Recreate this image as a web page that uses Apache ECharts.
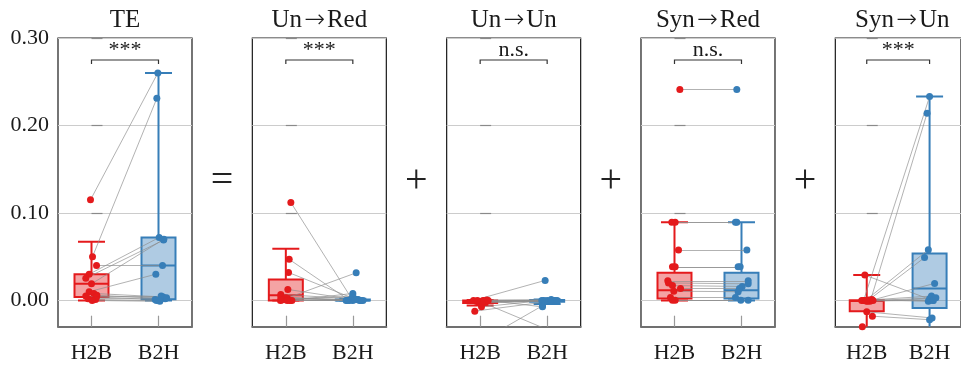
<!DOCTYPE html>
<html>
<head>
<meta charset="utf-8">
<script src="https://cdn.jsdelivr.net/npm/echarts@6/dist/echarts.min.js"></script>
<style>
  html, body { margin: 0; padding: 0; background: #fff; }
  #chart { width: 961px; height: 375px; }
</style>
</head>
<body>
<div id="chart"></div>
<script>
// Groups and panel labels
const groups = ['H2B', 'B2H'];
const panelTitles = [['TE'], ['Un', 'Red'], ['Un', 'Un'], ['Syn', 'Red'], ['Syn', 'Un']];
const significance = ['***', '***', 'n.s.', 'n.s.', '***'];
const operators = ['=', '+', '+', '+'];
const yTicks = [0, 0.1, 0.2, 0.3];

// TE: paired per-subject values
const teH2B = [0.115, 0.050, 0.040, 0.030, 0.0255, 0.019, 0.010, 0.008, 0.006, 0.005, 0.004, 0.002, 0.001, 0.000];
const teB2H = [0.260, 0.231, 0.040, 0.072, 0.069, 0.070, 0.030, 0.004, 0.002, 0.005, 0.001, 0.003, 0.000, -0.001];
const teJitterH2B = [-0.015, 0.015, 0.075, -0.035, -0.085, 0.000, -0.035, 0.035, 0.080, -0.085, 0.075, -0.050, 0.060, 0.010];
const teJitterB2H = [-0.010, -0.025, 0.060, 0.010, 0.075, 0.080, -0.040, 0.070, 0.100, 0.040, -0.050, 0.120, -0.030, 0.020];
const teBoxH2B = [0.000, 0.004, 0.019, 0.030, 0.067];
const teBoxB2H = [0.000, 0.0015, 0.040, 0.072, 0.260];

// Un->Red
const unRedH2B = [0.112, 0.047, 0.032, 0.0126, 0.0069, 0.004, 0.002, 0.000, 0.000, 0.001, 0.003, 0.000, 0.0005, 0.000];
const unRedB2H = [0.000, 0.000, 0.001, 0.000, 0.002, 0.000, 0.001, 0.0316, 0.008, 0.005, 0.000, 0.000, 0.001, 0.000];
const unRedJitterH2B = [0.075, 0.050, 0.040, 0.030, -0.075, -0.075, 0.030, -0.080, 0.060, -0.030, 0.000, 0.090, -0.060, 0.020];
const unRedJitterB2H = [0.000, -0.050, 0.050, 0.100, -0.020, 0.150, 0.080, 0.050, 0.000, 0.000, -0.080, 0.120, 0.030, -0.100];
const unRedBoxH2B = [0.000, 0.000, 0.006, 0.024, 0.059];
const unRedBoxB2H = [0.000, 0.000, 0.000, 0.001, 0.002];

// Un->Un
const unUnH2B = [-0.0122, -0.0073, -0.0016, 0.000, -0.001, -0.002, -0.003, 0.000, 0.0005, -0.0005, -0.047, 0.000, -0.001, 0.000];
const unUnB2H = [-0.001, 0.000, 0.000, 0.000, -0.0005, -0.001, 0.000, 0.0229, 0.001, 0.000, -0.006, -0.031, 0.000, -0.0073];
const unUnJitterH2B = [-0.080, 0.020, -0.030, 0.050, -0.060, 0.080, 0.000, -0.100, 0.100, 0.030, 0.000, -0.040, 0.060, 0.120];
const unUnJitterB2H = [0.050, -0.050, 0.100, 0.000, 0.080, -0.030, 0.120, -0.030, 0.060, -0.080, -0.070, -0.070, 0.150, -0.070];
const unUnBoxH2B = [-0.0057, -0.003, -0.0015, 0.000, 0.0005];
const unUnBoxB2H = [-0.004, -0.0015, 0.000, 0.0005, 0.001];

// Syn->Red
const synRedH2B = [0.241, 0.0893, 0.0893, 0.0576, 0.0385, 0.0385, 0.0225, 0.020, 0.017, 0.0137, 0.0106, 0.0034, 0.0003, 0.0003];
const synRedB2H = [0.241, 0.0893, 0.0893, 0.0576, 0.0385, 0.0385, 0.0225, 0.019, 0.016, 0.0137, 0.0100, 0.0034, 0.0003, 0.0003];
const synRedJitterH2B = [0.080, 0.010, -0.040, 0.060, -0.030, 0.010, -0.100, -0.090, -0.030, 0.090, -0.010, -0.060, 0.010, -0.030];
const synRedJitterB2H = [-0.070, -0.070, -0.090, 0.080, -0.050, -0.020, 0.100, 0.100, 0.010, -0.030, -0.050, -0.090, -0.010, 0.100];
const synRedBoxH2B = [0.000, 0.0023, 0.0118, 0.0316, 0.0893];
const synRedBoxB2H = [0.000, 0.0023, 0.0118, 0.0316, 0.0893];

// Syn->Un
const synUnH2B = [0.000, 0.000, 0.029, -0.018, 0.000, 0.0005, -0.001, 0.000, -0.001, -0.030, 0.001, -0.0005, -0.013, 0.000];
const synUnB2H = [0.233, 0.214, 0.000, -0.022, 0.058, 0.049, 0.0195, 0.005, 0.002, -0.045, -0.001, 0.000, -0.020, 0.003];
const synUnJitterH2B = [-0.050, 0.060, -0.030, 0.090, -0.020, 0.030, 0.010, -0.080, 0.050, -0.070, 0.080, -0.010, 0.000, 0.100];
const synUnJitterB2H = [0.000, -0.040, 0.050, 0.000, -0.020, -0.080, 0.080, 0.030, 0.000, 0.050, -0.020, 0.060, 0.040, 0.100];
const synUnBoxH2B = [-0.045, -0.0123, -0.0005, 0.0003, 0.029];
const synUnBoxB2H = [-0.045, -0.0085, 0.0137, 0.0538, 0.233];

const panels = [
  { h2b: teH2B, b2h: teB2H, jh: teJitterH2B, jb: teJitterB2H, boxH: teBoxH2B, boxB: teBoxB2H },
  { h2b: unRedH2B, b2h: unRedB2H, jh: unRedJitterH2B, jb: unRedJitterB2H, boxH: unRedBoxH2B, boxB: unRedBoxB2H },
  { h2b: unUnH2B, b2h: unUnB2H, jh: unUnJitterH2B, jb: unUnJitterB2H, boxH: unUnBoxH2B, boxB: unUnBoxB2H },
  { h2b: synRedH2B, b2h: synRedB2H, jh: synRedJitterH2B, jb: synRedJitterB2H, boxH: synRedBoxH2B, boxB: synRedBoxB2H },
  { h2b: synUnH2B, b2h: synUnB2H, jh: synUnJitterH2B, jb: synUnJitterB2H, boxH: synUnBoxH2B, boxB: synUnBoxB2H }
];

const Y_MIN = -0.03, Y_MAX = 0.30;
const FONT = '"Liberation Serif", "Times New Roman", serif';
const TEXT = '#1a1a1a';
const RED = '#e41a1c', BLUE = '#377eb8';
const FILLS = ['rgba(228,26,28,0.40)', 'rgba(55,126,184,0.40)'];
const STROKES = [RED, BLUE];

const PANEL_LEFT = 58, PANEL_STEP = 194.33, PANEL_TOP = 38, PANEL_W = 134, PANEL_H = 288.7;

// Box with whiskers and caps; value row = [group, low, q1, median, q3, high]
function renderBox(params, api) {
  const g = api.value(0);
  const low = api.coord([g, api.value(1)]);
  const q1 = api.coord([g, api.value(2)]);
  const med = api.coord([g, api.value(3)]);
  const q3 = api.coord([g, api.value(4)]);
  const high = api.coord([g, api.value(5)]);
  const cx = low[0], bw = 17, cw = 13.5;
  const color = STROKES[g];
  const ls = { stroke: color, lineWidth: 2, fill: null };
  return {
    type: 'group',
    children: [
      { type: 'line', shape: { x1: cx, y1: high[1], x2: cx, y2: q3[1] }, style: ls },
      { type: 'line', shape: { x1: cx, y1: q1[1], x2: cx, y2: low[1] }, style: ls },
      { type: 'line', shape: { x1: cx - cw, y1: high[1], x2: cx + cw, y2: high[1] }, style: ls },
      { type: 'line', shape: { x1: cx - cw, y1: low[1], x2: cx + cw, y2: low[1] }, style: ls },
      { type: 'rect', shape: { x: cx - bw, y: q3[1], width: 2 * bw, height: q1[1] - q3[1] },
        style: { fill: FILLS[g], stroke: color, lineWidth: 2 } },
      { type: 'line', shape: { x1: cx - bw, y1: med[1], x2: cx + bw, y2: med[1] }, style: ls }
    ]
  };
}

// Significance bracket between the two groups
function makeBracket(label) {
  return function (params, api) {
    const a = api.coord([0, Y_MAX]);
    const b = api.coord([1, Y_MAX]);
    const yBar = a[1] + 22;
    const yEnd = yBar + 4;
    return {
      type: 'group',
      children: [
        { type: 'polyline', shape: { points: [[a[0], yEnd], [a[0], yBar], [b[0], yBar], [b[0], yEnd]] },
          style: { stroke: '#333', lineWidth: 1.2, fill: null } },
        { type: 'text', style: { text: label, x: (a[0] + b[0]) / 2, y: yBar + 1,
          textAlign: 'center', textVerticalAlign: 'bottom', font: '22px ' + FONT, fill: TEXT } }
      ]
    };
  };
}

// Title text with a mathematical arrow between the two parts
function titleText(parts) {
  return parts.map(function (s) { return '{w|' + s + '}'; }).join('{arr|\u2192}');
}

const grid = [], xAxis = [], yAxis = [], series = [], graphic = [];

panels.forEach(function (p, i) {
  const left = PANEL_LEFT + i * PANEL_STEP;
  grid.push({ left: left, top: PANEL_TOP, width: PANEL_W, height: PANEL_H,
    show: true, borderColor: '#1a1a1a', borderWidth: 1.2, backgroundColor: 'transparent' });

  xAxis.push({
    type: 'category', gridIndex: i, data: groups, boundaryGap: true, position: 'bottom',
    axisLine: { show: true, onZero: false, lineStyle: { color: '#707070', width: 2 } },
    axisTick: { show: true, inside: true, alignWithLabel: true, length: 11, lineStyle: { color: '#9a9a9a', width: 1.2 } },
    axisLabel: { margin: 16, fontFamily: FONT, fontSize: 22, color: TEXT },
    splitLine: { show: false }
  });
  xAxis.push({ type: 'value', gridIndex: i, min: -0.5, max: 1.5, show: false });

  yAxis.push({
    type: 'value', gridIndex: i, min: Y_MIN, max: Y_MAX,
    axisLine: { show: false },
    axisTick: { show: true, inside: true, length: 11, customValues: yTicks, lineStyle: { color: '#8a8a8a', width: 1.2 } },
    axisLabel: { show: i === 0, customValues: yTicks, formatter: function (v) { return v.toFixed(2); },
      margin: 9, fontFamily: FONT, fontSize: 22, color: TEXT },
    splitLine: { show: true, lineStyle: { color: '#cccccc', width: 1.2 } }
  });

  const xi = 2 * i + 1;
  series.push({
    type: 'custom', xAxisIndex: xi, yAxisIndex: i, clip: true, silent: true, z: 2,
    renderItem: renderBox,
    data: [[0].concat(p.boxH), [1].concat(p.boxB)]
  });
  series.push({
    type: 'lines', coordinateSystem: 'cartesian2d', xAxisIndex: xi, yAxisIndex: i, clip: true, silent: true, z: 3,
    lineStyle: { color: '#8c8c8c', width: 0.9, opacity: 0.75 },
    data: p.h2b.map(function (v, k) { return { coords: [[p.jh[k], v], [1 + p.jb[k], p.b2h[k]]] }; })
  });
  series.push({
    type: 'scatter', xAxisIndex: xi, yAxisIndex: i, clip: true, z: 4, symbolSize: 7,
    itemStyle: { color: RED, opacity: 1 },
    data: p.h2b.map(function (v, k) { return [p.jh[k], v]; })
  });
  series.push({
    type: 'scatter', xAxisIndex: xi, yAxisIndex: i, clip: true, z: 4, symbolSize: 7,
    itemStyle: { color: BLUE, opacity: 1 },
    data: p.b2h.map(function (v, k) { return [1 + p.jb[k], v]; })
  });
  series.push({
    type: 'custom', xAxisIndex: xi, yAxisIndex: i, silent: true, z: 5,
    renderItem: makeBracket(significance[i]),
    data: [[0, Y_MAX]]
  });

  graphic.push({
    type: 'text', x: left + PANEL_W / 2, y: 20,
    style: {
      text: titleText(panelTitles[i]), fill: TEXT, textAlign: 'center', textVerticalAlign: 'middle',
      rich: {
        w: { fontFamily: FONT, fontSize: 25, color: TEXT },
        arr: { fontFamily: '"DejaVu Sans", sans-serif', fontWeight: 200, fontSize: 25, color: '#333', padding: [0, 2, 0, 2] }
      }
    }
  });
  if (i < operators.length) {
    graphic.push({
      type: 'text', x: left + PANEL_W + 30, y: 181,
      style: { text: operators[i], font: '40px ' + FONT, fill: '#222', textAlign: 'center', textVerticalAlign: 'middle' }
    });
  }
});

const chart = echarts.init(document.getElementById('chart'));
chart.setOption({
  animation: false,
  backgroundColor: '#ffffff',
  grid: grid,
  xAxis: xAxis,
  yAxis: yAxis,
  series: series,
  graphic: graphic
});
</script>
</body>
</html>
